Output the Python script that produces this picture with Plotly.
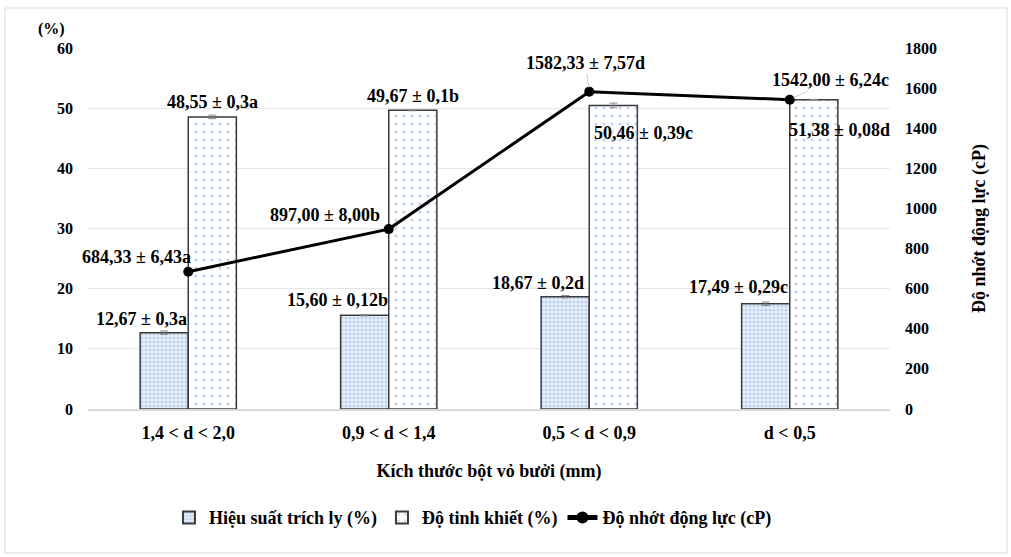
import plotly.graph_objects as go

# Particle-size classes of pomelo peel powder
categories = ["1,4 < d < 2,0", "0,9 < d < 1,4", "0,5 < d < 0,9", "d < 0,5"]

# Extraction yield (%) with SD and significance letters
yield_vals = [12.67, 15.60, 18.67, 17.49]
yield_err = [0.3, 0.12, 0.2, 0.29]
yield_sig = ["a", "b", "d", "c"]

# Purity (%)
purity_vals = [48.55, 49.67, 50.46, 51.38]
purity_err = [0.3, 0.1, 0.39, 0.08]
purity_sig = ["a", "b", "c", "d"]

# Dynamic viscosity (cP)
visc_vals = [684.33, 897.00, 1582.33, 1542.00]
visc_err = [6.43, 8.00, 7.57, 6.24]
visc_sig = ["a", "b", "d", "c"]

left_ticks = [0, 10, 20, 30, 40, 50, 60]
right_ticks = [0, 200, 400, 600, 800, 1000, 1200, 1400, 1600, 1800]

FONT = "Times New Roman, Liberation Serif, serif"
BLACK = "#000000"


def fmt(v, dec=2):
    return f"{v:.{dec}f}".replace(".", ",")


def fmt_err(e):
    s = f"{e:.2f}".rstrip("0")
    if s.endswith("."):
        s += "0"
    return s.replace(".", ",")


def label(v, e, sig):
    return f"<b>{fmt(v)} ± {fmt_err(e)}{sig}</b>"


def label_visc(v, e, sig):
    return f"<b>{fmt(v)} ± {e:.2f}{sig}</b>".replace(".", ",")


fig = go.Figure()

fig.add_trace(go.Bar(
    x=categories, y=yield_vals, name="<b>Hiệu suất trích ly (%)</b>",
    offsetgroup="a",
    marker=dict(color="#eaf1fa", line=dict(color="#3a3a3a", width=1.5),
                pattern=dict(shape=".", fgcolor="#8db3e2", size=4, solidity=0.5,
                             fillmode="overlay")),
    error_y=dict(type="data", array=yield_err, color="#8c8c8c", thickness=1, width=4),
))
fig.add_trace(go.Bar(
    x=categories, y=purity_vals, name="<b>Độ tinh khiết (%)</b>",
    offsetgroup="b",
    marker=dict(color="#ffffff", line=dict(color="#3a3a3a", width=1.5),
                pattern=dict(shape=".", fgcolor="#7fa9dc", size=8, solidity=0.12,
                             fillmode="overlay")),
    error_y=dict(type="data", array=purity_err, color="#8c8c8c", thickness=1, width=4),
))
fig.add_trace(go.Scatter(
    x=categories, y=visc_vals, name="<b>Độ nhớt động lực (cP)</b>", yaxis="y2",
    mode="lines+markers",
    line=dict(color=BLACK, width=3),
    marker=dict(color=BLACK, size=10),
    error_y=dict(type="data", array=visc_err, color="#8c8c8c", thickness=1, width=3),
))

annotations = []
lab_font = dict(family=FONT, size=18, color=BLACK)

# label offsets (pixels from category centre / value point)
yield_off = [(-47, 14), (-51, 15), (-51, 14), (-51, 17)]
purity_off = [(24, 15), (24, 14), (54, -28), (50, -30)]
visc_off = [(-52, 15), (-64, 14), None, None]
visc_arrow = [None, None, (-4, -29), (41, -20)]

for i, c in enumerate(categories):
    dx, dy = yield_off[i]
    annotations.append(dict(x=c, y=yield_vals[i], xref="x", yref="y",
                            text=label(yield_vals[i], yield_err[i], yield_sig[i]),
                            showarrow=False, xshift=dx, yshift=dy,
                            xanchor="center", yanchor="middle", font=lab_font))
    dx, dy = purity_off[i]
    annotations.append(dict(x=c, y=purity_vals[i], xref="x", yref="y",
                            text=label(purity_vals[i], purity_err[i], purity_sig[i]),
                            showarrow=False, xshift=dx, yshift=dy,
                            xanchor="center", yanchor="middle", font=lab_font))
    txt = label_visc(visc_vals[i], visc_err[i], visc_sig[i])
    if visc_off[i] is not None:
        dx, dy = visc_off[i]
        annotations.append(dict(x=c, y=visc_vals[i], xref="x", yref="y2", text=txt,
                                showarrow=False, xshift=dx, yshift=dy,
                                xanchor="center", yanchor="middle", font=lab_font))
    else:
        ax, ay = visc_arrow[i]
        annotations.append(dict(x=c, y=visc_vals[i], xref="x", yref="y2", text=txt,
                                showarrow=True, arrowhead=0, arrowwidth=0.8,
                                arrowcolor="#bfbfbf", ax=ax, ay=ay, standoff=4,
                                font=lab_font))

annotations.append(dict(x=-0.045, y=1.0, xref="paper", yref="paper", text="<b>(%)</b>",
                        showarrow=False, xanchor="center", yanchor="bottom", yshift=8,
                        font=dict(family=FONT, size=16, color=BLACK)))

fig.update_layout(
    width=1011, height=557,
    margin=dict(l=88, r=121, t=48, b=148),
    paper_bgcolor="#ffffff", plot_bgcolor="#ffffff",
    barmode="group", bargap=0.52, bargroupgap=0,
    font=dict(family=FONT, size=16, color=BLACK),
    showlegend=True,
    legend=dict(orientation="h", x=0.48, xanchor="center", y=-0.25, yanchor="top",
                font=dict(family=FONT, size=18, color=BLACK), traceorder="normal",
                itemwidth=30, itemsizing="constant"),
    xaxis=dict(
        type="category", range=[-0.5, len(categories) - 0.5],
        showgrid=False, showline=True, linecolor="#d9d9d9", linewidth=1.5,
        ticks="", tickfont=dict(family=FONT, size=18, color=BLACK),
        ticklabelstandoff=7, automargin=False,
        title=dict(text="<b>Kích thước bột vỏ bưởi (mm)</b>", standoff=22,
                   font=dict(family=FONT, size=18, color=BLACK)),
        tickprefix="<b>", ticksuffix="</b>",
    ),
    yaxis=dict(
        range=[0, 60], tickvals=left_ticks,
        ticktext=[f"<b>{t}</b>" for t in left_ticks],
        showgrid=True, gridcolor="#e6e6e6", gridwidth=1, zeroline=False,
        showline=False, ticks="", ticklabelstandoff=14, automargin=False,
        tickfont=dict(family=FONT, size=16, color=BLACK),
    ),
    yaxis2=dict(
        range=[0, 1800], tickvals=right_ticks,
        ticktext=[f"<b>{t}</b>" for t in right_ticks],
        overlaying="y", side="right", showgrid=False, zeroline=False,
        showline=False, ticks="", ticklabelstandoff=14, automargin=False,
        tickfont=dict(family=FONT, size=16, color=BLACK),
        title=dict(text="<b>Độ nhớt động lực (cP)</b>", standoff=36,
                   font=dict(family=FONT, size=18, color=BLACK)),
    ),
    annotations=annotations,
    shapes=[dict(type="rect", xref="paper", yref="paper",
                 x0=-83 / 802, x1=1 + 117 / 802, y0=-144 / 361, y1=1 + 40 / 361,
                 line=dict(color="#d9d9d9", width=1), fillcolor="rgba(0,0,0,0)",
                 layer="below")],
)

fig.write_html("out.html")
